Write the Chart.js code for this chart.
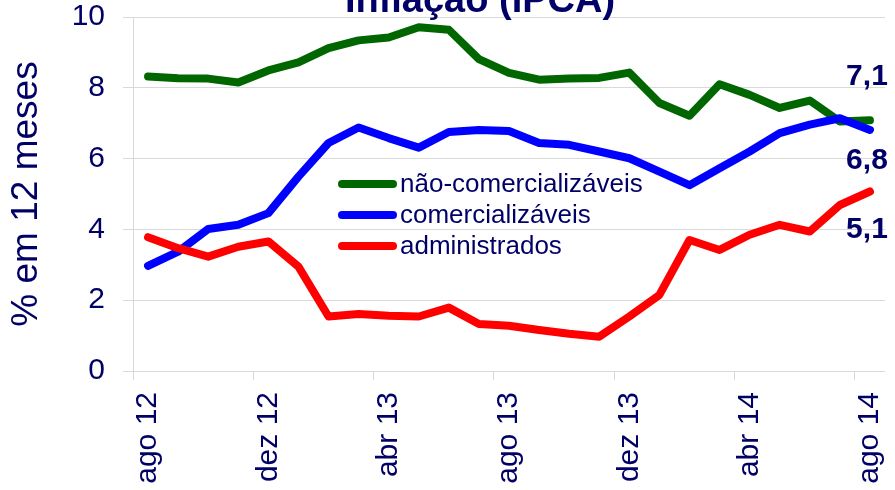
<!DOCTYPE html>
<html>
<head>
<meta charset="utf-8">
<script src="https://cdn.jsdelivr.net/npm/chart.js@4/dist/chart.umd.min.js"></script>
<style>
html,body{margin:0;padding:0;background:#fff;}
#wrap{width:895px;height:490px;position:relative;overflow:hidden;}
</style>
</head>
<body>
<div id="wrap"><canvas id="c" width="895" height="490"></canvas></div>
<script>
const titleText = 'Inflação (IPCA)';
const yAxisTitle = '% em 12 meses';
const months = ['ago 12','set 12','out 12','nov 12','dez 12','jan 13','fev 13','mar 13','abr 13','mai 13','jun 13','jul 13','ago 13','set 13','out 13','nov 13','dez 13','jan 14','fev 14','mar 14','abr 14','mai 14','jun 14','jul 14','ago 14'];
const tickMonths = ['ago 12','dez 12','abr 13','ago 13','dez 13','abr 14','ago 14'];
const yTicks = [0, 2, 4, 6, 8, 10];
const seriesNames = ['não-comercializáveis', 'comercializáveis', 'administrados'];
const naoComercializaveis = [8.32,8.27,8.26,8.15,8.49,8.72,9.12,9.34,9.42,9.71,9.64,8.81,8.42,8.23,8.26,8.28,8.43,7.57,7.21,8.10,7.80,7.43,7.64,7.05,7.08];
const comercializaveis = [2.97,3.37,4.01,4.13,4.46,5.49,6.44,6.88,6.58,6.31,6.75,6.81,6.78,6.44,6.39,6.20,6.01,5.63,5.25,5.73,6.20,6.72,6.96,7.14,6.81];
const administrados = [3.78,3.47,3.23,3.51,3.66,2.95,1.54,1.61,1.56,1.54,1.79,1.33,1.28,1.16,1.05,0.97,1.54,2.15,3.70,3.42,3.85,4.13,3.94,4.69,5.07];

const NAVY = '#000066';
const GRID = '#d9d9d9';
const FONT = "'Liberation Sans', Arial, sans-serif";

const titlePlugin = {
  id: 'topTitle',
  afterDraw(chart) {
    const ctx = chart.ctx;
    ctx.save();
    ctx.fillStyle = NAVY;
    ctx.font = 'bold 38px ' + FONT;
    ctx.textAlign = 'center';
    ctx.textBaseline = 'alphabetic';
    ctx.fillText(titleText, 480, 12);
    ctx.restore();
  }
};

const legendPlugin = {
  id: 'innerLegend',
  afterDatasetsDraw(chart) {
    const ctx = chart.ctx, a = chart.chartArea;
    const x0 = a.left + 205, y0 = a.top + 167, rowH = 31;
    chart.data.datasets.forEach((ds, i) => {
      const y = y0 + i * rowH;
      ctx.save();
      ctx.strokeStyle = ds.borderColor;
      ctx.lineWidth = 8;
      ctx.lineCap = 'round';
      ctx.beginPath();
      ctx.moveTo(x0 + 4, y);
      ctx.lineTo(x0 + 55, y);
      ctx.stroke();
      ctx.fillStyle = NAVY;
      ctx.font = '26px ' + FONT;
      ctx.textBaseline = 'middle';
      ctx.textAlign = 'left';
      ctx.fillText(ds.label, x0 + 62, y + 1);
      ctx.restore();
    });
  }
};

const endLabelPlugin = {
  id: 'endLabels',
  afterDatasetsDraw(chart) {
    const ctx = chart.ctx;
    const dy = [-44, 31, 38];
    chart.data.datasets.forEach((ds, i) => {
      const meta = chart.getDatasetMeta(i);
      const last = ds.data.length - 1;
      const pt = meta.data[last];
      const txt = ds.data[last].toFixed(1).replace('.', ',');
      ctx.save();
      ctx.fillStyle = NAVY;
      ctx.font = 'bold 30px ' + FONT;
      ctx.textAlign = 'center';
      ctx.textBaseline = 'middle';
      ctx.fillText(txt, pt.x - 3, pt.y + dy[i]);
      ctx.restore();
    });
  }
};

const lineStyle = {
  borderWidth: 8,
  pointRadius: 0,
  pointHoverRadius: 0,
  tension: 0,
  borderCapStyle: 'round',
  borderJoinStyle: 'round',
  fill: false
};

new Chart(document.getElementById('c'), {
  type: 'line',
  data: {
    labels: months,
    datasets: [
      Object.assign({ label: seriesNames[0], data: naoComercializaveis, borderColor: '#006600', backgroundColor: '#006600', order: 2 }, lineStyle),
      Object.assign({ label: seriesNames[1], data: comercializaveis, borderColor: '#0000ff', backgroundColor: '#0000ff', order: 1 }, lineStyle),
      Object.assign({ label: seriesNames[2], data: administrados, borderColor: '#ff0000', backgroundColor: '#ff0000', order: 0 }, lineStyle)
    ]
  },
  options: {
    responsive: false,
    animation: false,
    devicePixelRatio: 1,
    layout: { padding: { top: 17, right: 10, left: 0, bottom: 0 } },
    plugins: {
      legend: { display: false },
      title: { display: false },
      tooltip: { enabled: false }
    },
    scales: {
      x: {
        type: 'category',
        offset: true,
        grid: {
          offset: true,
          drawOnChartArea: false,
          drawTicks: true,
          tickLength: 9,
          color: (c) => (c.index !== undefined && c.index % 4 === 0) ? GRID : 'rgba(0,0,0,0)'
        },
        border: { display: false },
        ticks: {
          autoSkip: false,
          minRotation: 90,
          maxRotation: 90,
          padding: 12,
          color: NAVY,
          font: { family: FONT, size: 30 },
          callback: (v, i) => tickMonths.includes(months[i]) ? months[i] : ''
        },
        afterFit: (s) => { s.height = 119; s.paddingLeft = 0; s.paddingRight = 0; s.paddingTop = 0; s.paddingBottom = 0; }
      },
      y: {
        min: 0,
        max: 10,
        afterBuildTicks: (s) => { s.ticks = yTicks.map(v => ({ value: v })); },
        grid: { color: GRID, tickLength: 10, lineWidth: 1 },
        border: { display: true, color: GRID },
        ticks: {
          padding: 18,
          color: NAVY,
          font: { family: FONT, size: 30, lineHeight: 1 }
        },
        title: {
          display: true,
          text: yAxisTitle,
          color: NAVY,
          font: { family: FONT, size: 37 },
          padding: { top: 5, bottom: 0 }
        },
        afterFit: (s) => { s.width = 133; s.paddingTop = 0; s.paddingBottom = 0; s.paddingLeft = 0; s.paddingRight = 0; }
      }
    }
  },
  plugins: [titlePlugin, legendPlugin, endLabelPlugin]
});
</script>
</body>
</html>
